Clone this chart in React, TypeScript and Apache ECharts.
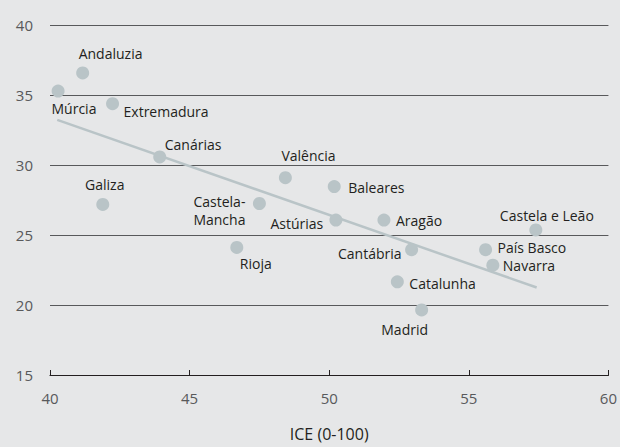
import React, { useEffect, useRef } from "react";
import * as echarts from "echarts";

const regions = [
  "Múrcia", "Andaluzia", "Extremadura", "Canárias", "Galiza", "Valência", "Baleares",
  "Castela-\nMancha", "Astúrias", "Aragão", "Rioja", "Cantábria", "Catalunha", "Madrid",
  "Castela e Leão", "País Basco", "Navarra",
];
const iceValues = [
  40.29, 41.17, 42.24, 43.93, 41.89, 48.43, 50.18,
  47.5, 50.24, 51.96, 46.69, 52.95, 52.44, 53.31,
  57.4, 55.6, 55.86,
];
const yValues = [
  35.28, 36.58, 34.38, 30.58, 27.18, 29.09, 28.46,
  27.25, 26.07, 26.07, 24.11, 23.95, 21.66, 19.65,
  25.36, 23.95, 22.84,
];
const trendX = [40.26, 57.43];
const trendY = [33.22, 21.25];
const xTicks = [40, 45, 50, 55, 60];
const yTicks = [15, 20, 25, 30, 35, 40];

// label placement: [align, dx, dy]
const labelPlace: Record<string, [string, number, number]> = {
  "Múrcia": ["left", -6.6, 17.6],
  "Andaluzia": ["left", -4, -19],
  "Extremadura": ["left", 11, 8],
  "Canárias": ["left", 5, -12],
  "Galiza": ["center", 2, -20],
  "Valência": ["left", -4, -22],
  "Baleares": ["left", 14, 1],
  "Castela-\nMancha": ["right", -14, 7],
  "Astúrias": ["right", -12.7, 3],
  "Aragão": ["left", 12, 0],
  "Rioja": ["left", 3, 16],
  "Cantábria": ["right", -10, 4],
  "Catalunha": ["left", 12, 2],
  "Madrid": ["center", -17, 20],
  "Castela e Leão": ["center", 11, -14],
  "País Basco": ["left", 12, -2],
  "Navarra": ["left", 10, 0],
};

export default function App() {
  const ref = useRef<HTMLDivElement>(null);
  useEffect(() => {
    if (!ref.current) return;
    const chart = echarts.init(ref.current, null, { renderer: "svg" });
    const font = "'Open Sans', 'Noto Sans', sans-serif";
    const scatterData = regions.map((name, i) => {
      const [align, dx, dy] = labelPlace[name];
      return {
        name,
        value: [iceValues[i], yValues[i]],
        label: {
          show: true,
          position: "inside",
          align,
          verticalAlign: "middle",
          offset: [dx, dy],
          formatter: name,
          color: "#231f20",
          fontSize: 14,
          fontFamily: font,
          lineHeight: 18,
        },
      };
    });
    chart.setOption({
      animation: false,
      backgroundColor: "#e6e7e8",
      grid: { left: 50, right: 10, top: 25, bottom: 69 },
      xAxis: {
        type: "value",
        min: xTicks[0],
        max: xTicks[xTicks.length - 1],
        interval: 5,
        name: "ICE (0-100)",
        nameLocation: "middle",
        nameGap: 51,
        nameTextStyle: { color: "#231f20", fontSize: 16, fontFamily: font },
        axisLine: { show: true, lineStyle: { color: "#231f20", width: 1.2 } },
        axisTick: { show: true, inside: true, length: 5, lineStyle: { color: "#231f20" } },
        axisLabel: { color: "#58595b", fontSize: 15, fontFamily: font, margin: 15 },
        splitLine: { show: false },
      },
      yAxis: {
        type: "value",
        min: yTicks[0],
        max: yTicks[yTicks.length - 1],
        interval: 5,
        axisLine: { show: false },
        axisTick: { show: false },
        axisLabel: { color: "#58595b", fontSize: 15, fontFamily: font, margin: 17 },
        splitLine: { show: true, lineStyle: { color: "#58595b", width: 1.2 } },
      },
      series: [
        {
          type: "line",
          data: trendX.map((x, i) => [x, trendY[i]]),
          showSymbol: false,
          symbol: "none",
          lineStyle: { color: "#b9c4c7", width: 2.5 },
          z: 2,
          silent: true,
        },
        {
          type: "scatter",
          data: scatterData,
          symbolSize: 13,
          itemStyle: { color: "#b9c4c7", opacity: 1 },
          z: 3,
        },
      ],
    });
    return () => chart.dispose();
  }, []);
  return (
    <div
      ref={ref}
      style={{ position: "fixed", left: 0, top: 0, width: 620, height: 447 }}
    />
  );
}
